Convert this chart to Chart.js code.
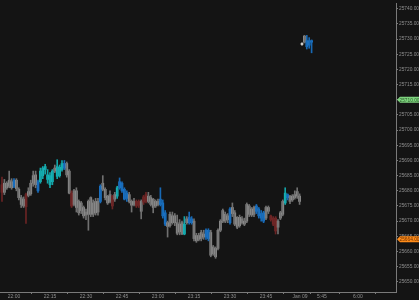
<!DOCTYPE html>
<html>
<head>
<meta charset="utf-8">
<script src="https://cdn.jsdelivr.net/npm/chart.js@4"></script>
<style>
  html, body { margin: 0; padding: 0; background: #141414; }
  #box { width: 419px; height: 300px; }
</style>
</head>
<body>
<div id="box"><canvas id="grafico"></canvas></div>
<script>
// velas de 1 minuto, 5 por linha (a primeira fica 5 min antes das 22:00)
const opens = [
    25682, 25679.5, 25682.5, 25681.5, 25683,
    25681.5, 25683.5, 25680.5, 25677.75, 25677.25,
    25678.75, 25679.75, 25679, 25682.5, 25685.25,
    25683, 25683, 25685, 25687, 25685.25,
    25685, 25683, 25686.5, 25688, 25685,
    25687, 25689, 25689, 25686.5, 25679.25,
    25675.5, 25680, 25676.5, 25673.5, 25674.5,
    25673, 25672.25, 25672.25, 25676, 25672.75,
    25676.5, 25676.5, 25680.5, 25680.5, 25678.25,
    25676.5, 25678.25, 25677.25, 25678.25, 25681,
    25682.5, 25680.5, 25679.25, 25678.75, 25676.5,
    25675.5, 25676.5, 25676.5, 25676.5, 25678,
    25678.75, 25676.5, 25677.75, 25677.25, 25675,
    25676.5, 25675.5, 25676, 25672.75, 25669.5,
    25668.5, 25671.75, 25669.5, 25669.5, 25666.5,
    25669.5, 25665.75, 25670.75, 25669.5, 25670.75,
    25670, 25665.25, 25664, 25664.25, 25665.75,
    25664.75, 25667, 25666.25, 25661.5, 25661,
    25661, 25667, 25670, 25672.25, 25670.5,
    25669.5, 25672.5, 25672.75, 25671.25, 25668.5,
    25670.75, 25669, 25670, 25675, 25672,
    25674.5, 25673.25, 25674, 25672.5, 25672.75,
    25671, 25674.5, 25671.75, 25671, 25671,
    25668, 25671, 25672.25, 25676, 25678.75,
    25678.25, 25677, 25677.75, 25678.25, 25678.25,
    25728.25, 25729, 25729.5, 25729.5, 25729.5
];
const highs = [
    25684.5, 25683.75, 25683, 25686.5, 25684,
    25684, 25684, 25681, 25678.5, 25678,
    25679.25, 25681, 25683.5, 25686.5, 25686.5,
    25683.5, 25687.5, 25688, 25688.75, 25687,
    25686, 25687, 25688.5, 25690.25, 25688.5,
    25690, 25690, 25689.5, 25687, 25680,
    25680.5, 25681, 25677, 25676.5, 25675,
    25674, 25677, 25678, 25677, 25677.5,
    25677.5, 25682, 25685, 25681, 25678.5,
    25680, 25678.5, 25679.5, 25681.5, 25684.25,
    25683, 25681, 25680, 25679.5, 25677,
    25677.5, 25677, 25677, 25677, 25678.5,
    25679.5, 25679.5, 25678.5, 25677.5, 25677,
    25677.25, 25681, 25677, 25673.5, 25670,
    25673, 25673, 25672.5, 25672, 25670.5,
    25670, 25671.5, 25671.5, 25673, 25671.5,
    25670.75, 25666, 25666, 25667, 25667,
    25667.5, 25667.5, 25667, 25662, 25661.5,
    25667.5, 25670.5, 25674, 25673, 25672.5,
    25674.5, 25676, 25673.5, 25671.5, 25672,
    25671.5, 25671, 25676, 25675.5, 25674.5,
    25675, 25675.5, 25674.5, 25673.5, 25673.25,
    25675, 25675, 25672, 25671.5, 25671.5,
    25670.5, 25673.25, 25677, 25681, 25679,
    25678.5, 25678.75, 25680, 25681, 25679,
    25728.75, 25731.25, 25731.25, 25730.5, 25729.75
];
const lows = [
    25676.5, 25678.75, 25680.5, 25681, 25680.5,
    25681, 25680, 25677, 25674.5, 25674.5,
    25669.25, 25678, 25678.5, 25681.5, 25681,
    25679.5, 25682.5, 25684, 25685.5, 25682.5,
    25681, 25682, 25686, 25684, 25684.5,
    25686.5, 25687, 25684.5, 25679, 25674.5,
    25675, 25673, 25672, 25672.5, 25671,
    25670.5, 25667, 25671.5, 25671.5, 25672,
    25672, 25676, 25680, 25677, 25675.5,
    25676, 25674, 25676.5, 25677.5, 25680.5,
    25679.5, 25677, 25676.5, 25676, 25673,
    25675, 25674.5, 25674.5, 25670.75, 25675.5,
    25676, 25676, 25675, 25672.75, 25674.5,
    25675, 25675, 25671, 25668.5, 25664.75,
    25668, 25669, 25668.5, 25665.5, 25665.5,
    25665.5, 25665.5, 25669, 25669, 25669,
    25663.5, 25663, 25663.5, 25663.5, 25664,
    25664, 25663.5, 25658.25, 25658.75, 25657.75,
    25660.5, 25666.5, 25669.5, 25669.5, 25669.5,
    25669, 25671.5, 25668.5, 25667.5, 25668,
    25669, 25668.5, 25669.5, 25671.5, 25671.5,
    25671.5, 25672.5, 25671, 25670, 25669.5,
    25670.5, 25672.5, 25670, 25668.5, 25665.75,
    25665.75, 25670.5, 25671.75, 25675.5, 25677,
    25675.75, 25676.5, 25677.25, 25677.5, 25675.5,
    25728, 25728.75, 25726.75, 25727, 25725.5
];
const closes = [
    25679.5, 25682.5, 25681, 25683.5, 25681,
    25683.5, 25680.75, 25677.75, 25675.5, 25675,
    25674.75, 25678.5, 25682.5, 25685, 25682,
    25680, 25686.5, 25687.5, 25688, 25683.75,
    25682, 25686.5, 25687.5, 25684.75, 25687.75,
    25689, 25687.5, 25685.25, 25679.25, 25675,
    25680, 25674.5, 25672.75, 25676, 25671.75,
    25672, 25676.5, 25677.75, 25672.25, 25676.5,
    25673, 25681.5, 25682.5, 25677.75, 25676,
    25678.75, 25675, 25678.75, 25681, 25683,
    25680, 25677.25, 25677.5, 25676.5, 25675.25,
    25676.5, 25675, 25675.25, 25673.25, 25676.25,
    25676.5, 25678.25, 25675.5, 25674.5, 25676.5,
    25675.5, 25677.25, 25671.75, 25669, 25668.25,
    25672.25, 25669.5, 25671.75, 25666, 25669,
    25665.75, 25669, 25669.5, 25671.25, 25669.5,
    25664.25, 25663.5, 25665.25, 25666.25, 25664.75,
    25667, 25664.25, 25658.75, 25659.25, 25658.25,
    25667, 25670, 25673.5, 25670, 25671.75,
    25674, 25674.5, 25669, 25668, 25671.25,
    25669.5, 25670, 25675.5, 25672.25, 25674,
    25672.25, 25675, 25671.75, 25671, 25670,
    25674.5, 25673.25, 25670.5, 25669, 25666.75,
    25670, 25672.75, 25676.5, 25679.25, 25677.75,
    25676.5, 25678.25, 25678.75, 25679.75, 25676.5,
    25728.5, 25731, 25727.5, 25728, 25729
];
// g = cinza, r = vermelho, c = ciano, b = azul, w = branco (5 velas por grupo)
const cores = ('rgggg bgggg rgggg bcccc ccgcc cbggr ggggg ggggg gbggg grgcb ' +
               'bbbgg grrgr rgggg gbbbg ggggg gcgbb ggggg bbggg ggggg bgggg ' +
               'ggggg gbbbb ggrrr gggcb ggggg wgbbb').replace(/ /g, '').split('');

const yTicks = [25650, 25655, 25660, 25665, 25670, 25675, 25680, 25685, 25690, 25695,
                25700, 25705, 25710, 25715, 25720, 25725, 25730, 25735, 25740];
const xTickPos = [0, 15, 30, 45, 60, 75, 90, 105, 119.2, 128.3, 143.3];
const xTickText = ['22:00', '22:15', '22:30', '22:45', '23:00', '23:15', '23:30', '23:45', 'Jan 09', '5:45', '6:00'];

const niveis = [25710, 25664];
const niveisCor = ['#7fd47f', '#ff8c1a'];

const paleta = { g: '#a3a3a3', r: '#7c2b2b', c: '#19c4c8', b: '#1c7dd6', w: '#ececec' };
const paletaPavio = { g: '#707070', r: '#6a2424', c: '#14a5a9', b: '#1869b5', w: '#cfcfcf' };

const fonte = 'Liberation Sans';

// posicao de cada vela no eixo (minutos a partir das 22:00)
const pos = opens.map((_, i) => i - 5);

const pavios = pos.map((x, i) => ({ x: x, y: [lows[i], highs[i]] }));
const corpos = pos.map((x, i) => ({ x: x, y: [opens[i], closes[i]] }));

// fundo escuro
const fundo = {
    id: 'fundo',
    beforeDraw(chart) {
        const c = chart.ctx;
        c.save();
        c.fillStyle = '#141414';
        c.fillRect(0, 0, chart.width, chart.height);
        c.restore();
    }
};

// etiquetas coloridas no eixo da direita
const etiquetas = {
    id: 'etiquetas',
    afterDraw(chart) {
        const c = chart.ctx;
        const ys = chart.scales.y;
        const x0 = chart.chartArea.right + 1;
        c.save();
        c.font = '4.8px "' + fonte + '"';
        c.textBaseline = 'middle';
        niveis.forEach((v, i) => {
            const y = ys.getPixelForValue(v);
            c.fillStyle = niveisCor[i];
            c.beginPath();
            c.moveTo(x0, y);
            c.lineTo(x0 + 3, y - 3);
            c.lineTo(chart.width, y - 3);
            c.lineTo(chart.width, y + 3);
            c.lineTo(x0 + 3, y + 3);
            c.closePath();
            c.fill();
            c.fillStyle = i === 0 ? '#2a5a2a' : '#6a3000';
            c.fillText(v.toFixed(2), x0 + 2.5, y + 0.5);
        });
        c.restore();
    }
};

new Chart(document.getElementById('grafico'), {
    type: 'bar',
    data: {
        datasets: [
            {
                data: pavios,
                backgroundColor: cores.map(k => paletaPavio[k]),
                barThickness: 1,
                minBarLength: 1
            },
            {
                data: corpos,
                backgroundColor: cores.map(k => paleta[k]),
                barThickness: 2,
                minBarLength: 1
            }
        ]
    },
    plugins: [fundo, etiquetas],
    options: {
        responsive: true,
        maintainAspectRatio: false,
        animation: false,
        layout: { padding: 0 },
        datasets: { bar: { grouped: false } },
        plugins: { legend: { display: false }, tooltip: { enabled: false } },
        scales: {
            x: {
                type: 'linear',
                offset: false,
                min: -5.83,
                max: 159.17,
                afterFit: s => { s.height = 8; },
                afterBuildTicks: s => { s.ticks = xTickPos.map(v => ({ value: v })); },
                border: { display: true, color: '#7a7a7a' },
                grid: { drawOnChartArea: false, color: '#7a7a7a', tickLength: 2 },
                ticks: {
                    autoSkip: false,
                    maxRotation: 0,
                    padding: 0,
                    color: '#8f8f8f',
                    font: { family: fonte, size: 5 },
                    callback: (v, i) => xTickText[i]
                }
            },
            y: {
                position: 'right',
                min: 25646.64,
                max: 25741.63,
                afterFit: s => { s.width = 23; },
                afterBuildTicks: s => { s.ticks = yTicks.map(v => ({ value: v })); },
                border: { display: true, color: '#7a7a7a' },
                grid: { drawOnChartArea: false, color: '#7a7a7a', tickLength: 2 },
                ticks: {
                    autoSkip: false,
                    padding: 1,
                    color: '#8f8f8f',
                    font: { family: fonte, size: 4.8 },
                    callback: v => v.toFixed(2)
                }
            }
        }
    }
});
</script>
</body>
</html>
